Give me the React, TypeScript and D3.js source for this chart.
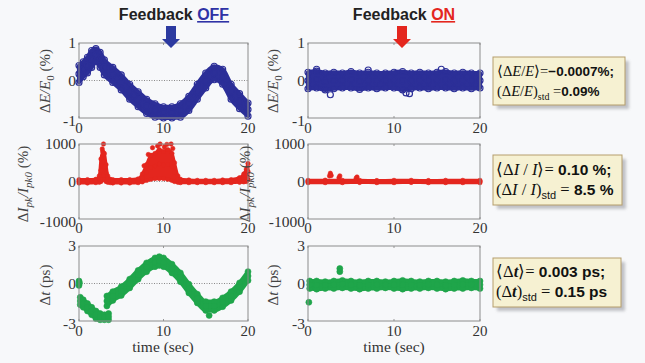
import React from "react";
import * as d3 from "d3";

// ---------- DATA ----------
const xTicks = [0, 10, 20];
const eTicks = [1, 0, -1];
const iTicks = [1000, 0, -1000];
const tTicks = [3, 0, -3];

// Energy deviation, feedback OFF (band envelope)
const eOffT = [0, 0.5, 1, 1.5, 2, 2.5, 3, 4, 5, 6, 7, 8, 9, 10, 11, 12, 13, 14, 15, 16, 17, 18, 19, 20];
const eOffHi = [0.4, 0.5, 0.62, 0.8, 0.85, 0.75, 0.55, 0.35, 0.15, -0.1, -0.3, -0.5, -0.62, -0.7, -0.7, -0.62, -0.42, -0.1, 0.2, 0.38, 0.3, -0.1, -0.35, -0.6];
const eOffLo = [-0.05, 0.1, 0.2, 0.35, 0.5, 0.35, 0.15, -0.05, -0.25, -0.5, -0.7, -0.88, -0.98, -1.0, -1.0, -0.98, -0.8, -0.5, -0.2, 0.02, -0.1, -0.5, -0.75, -0.95];

// Energy deviation, feedback ON
const eOnT = [0, 1, 2, 3, 4, 5, 6, 7, 8, 9, 10, 11, 12, 13, 14, 15, 16, 17, 18, 19, 20];
const eOnHi = [0.22, 0.25, 0.2, 0.22, 0.2, 0.24, 0.2, 0.22, 0.2, 0.2, 0.22, 0.24, 0.2, 0.22, 0.2, 0.22, 0.24, 0.2, 0.22, 0.2, 0.2];
const eOnLo = [-0.22, -0.2, -0.25, -0.22, -0.2, -0.2, -0.24, -0.2, -0.22, -0.2, -0.2, -0.25, -0.22, -0.2, -0.22, -0.2, -0.2, -0.22, -0.2, -0.22, -0.2];
const eOnOut: [number, number][] = [[2.6, -0.38], [11.4, -0.33], [11.8, -0.35], [1.0, 0.3], [7.0, 0.28], [15.5, 0.3]];

// Peak current deviation, feedback OFF
const iOffT = [0, 1, 2, 2.4, 2.6, 2.8, 3.0, 3.2, 3.4, 3.7, 4, 5, 6, 7, 7.5, 8, 8.5, 9, 9.5, 10, 10.5, 11, 11.3, 11.7, 12, 13, 14, 15, 16, 17, 18, 19, 19.5, 19.8, 20];
const iOffHi = [50, 50, 60, 150, 600, 800, 750, 450, 150, 60, 50, 50, 50, 70, 200, 450, 700, 750, 850, 800, 850, 750, 500, 150, 60, 40, 30, 30, 30, 40, 50, 100, 200, 330, 480];
const iOffLo = [-40, -40, -30, -20, 0, 50, 50, 0, -20, -30, -40, -40, -40, -30, -10, 30, 60, 80, 80, 80, 60, 30, 0, -20, -30, -30, -30, -30, -30, -30, -30, -20, -10, 0, 50];
const iOffOut: [number, number][] = [[2.9, 1000], [2.75, 870], [8.2, 720], [8.7, 900], [9.3, 950], [9.6, 1000], [10.1, 920], [10.4, 990], [10.9, 1000], [11.1, 880], [7.7, 420]];

// Peak current deviation, feedback ON
const iOnT = [0, 2, 4, 6, 8, 10, 12, 14, 16, 18, 20];
const iOnHi = [30, 35, 30, 30, 25, 30, 30, 25, 30, 30, 30];
const iOnLo = [-30, -30, -30, -25, -30, -30, -25, -30, -30, -30, -30];
const iOnOut: [number, number][] = [[2.5, 150], [2.6, 220], [2.7, 160], [3.6, 100], [3.7, 150], [5.6, 90], [5.7, 120]];

// Timing jitter, feedback OFF (two segments)
const tOff1T = [0.15, 0.5, 1, 1.5, 2, 2.5, 3, 3.5];
const tOff1Hi = [-1.1, -1.3, -1.6, -1.9, -2.2, -2.4, -2.5, -2.4];
const tOff1Lo = [-1.7, -1.9, -2.2, -2.5, -2.8, -2.9, -2.9, -2.9];
const tOff2T = [3.3, 4, 5, 6, 7, 8, 9, 9.5, 10, 11, 12, 13, 14, 15, 16, 17, 18, 19, 20];
const tOff2Hi = [-1.0, -0.65, -0.25, 0.35, 1.05, 1.65, 2.05, 2.15, 2.05, 1.55, 0.85, -0.05, -0.85, -1.45, -1.45, -1.15, -0.65, 0.05, 0.95];
const tOff2Lo = [-1.8, -1.35, -0.95, -0.35, 0.35, 0.95, 1.35, 1.45, 1.35, 0.85, 0.15, -0.75, -1.55, -2.15, -2.15, -1.85, -1.35, -0.65, 0.25];
const tOffOut: [number, number][] = [[0, 0.2], [0, -0.15], [0.05, 0.05], [15.4, -2.55]];

// Timing jitter, feedback ON
const tOnT = [0.2, 1, 2, 3, 4, 5, 6, 7, 8, 9, 10, 11, 12, 13, 14, 15, 16, 17, 18, 19, 20];
const tOnHi = [0.2, 0.2, 0.15, 0.2, 0.25, 0.2, 0.15, 0.2, 0.2, 0.15, 0.2, 0.25, 0.2, 0.15, 0.2, 0.2, 0.15, 0.2, 0.25, 0.2, 0.2];
const tOnLo = [-0.4, -0.45, -0.4, -0.4, -0.35, -0.4, -0.45, -0.4, -0.4, -0.35, -0.4, -0.45, -0.4, -0.4, -0.35, -0.4, -0.45, -0.4, -0.4, -0.35, -0.4];
const tOnOut: [number, number][] = [[0.1, -1.5], [3.7, 1.2], [3.7, 0.95]];

// ---------- LAYOUT ----------
const BLUE = "#2c2f98";
const RED = "#e4261e";
const GREEN = "#1fa54a";
const SERIF = "'Liberation Serif', 'Times New Roman', serif";
const SANS = "'Liberation Sans', Arial, sans-serif";

const cols = [
  { x0: 79, x1: 248 },
  { x0: 308, x1: 480 },
];
const rows = [
  { y0: 43, y1: 118, domain: [-1, 1], ticks: eTicks },
  { y0: 144, y1: 219, domain: [-1000, 1000], ticks: iTicks },
  { y0: 246, y1: 321, domain: [-3, 3], ticks: tTicks },
];

type BandProps = {
  x: d3.ScaleLinear<number, number>;
  y: d3.ScaleLinear<number, number>;
  t: number[];
  lo: number[];
  hi: number[];
  out?: [number, number][];
  color: string;
  r: number;
  open?: boolean;
};

function Band({ x, y, t, lo, hi, out = [], color, r, open }: BandProps) {
  const pts = t.map((v, i) => ({ t: v, lo: lo[i], hi: hi[i] }));
  const area = d3
    .area<{ t: number; lo: number; hi: number }>()
    .x((d) => x(d.t))
    .y0((d) => y(d.lo))
    .y1((d) => y(d.hi))
    .curve(d3.curveMonotoneX);
  const marks: [number, number][] = [];
  pts.forEach((p) => {
    marks.push([p.t, p.lo]);
    marks.push([p.t, p.hi]);
    marks.push([p.t, (p.lo + p.hi) / 2]);
  });
  out.forEach((o) => marks.push(o));
  return (
    <g>
      <path d={area(pts) || ""} fill={color} stroke={color} strokeWidth={r * 1.4} strokeLinejoin="round" />
      {marks.map((m, i) => (
        <circle
          key={i}
          cx={x(m[0])}
          cy={y(m[1])}
          r={r}
          fill={open ? "none" : color}
          stroke={color}
          strokeWidth={open ? 1.2 : 0.6}
        />
      ))}
    </g>
  );
}

function Frame({ col, row, xLabelY, showZero }: any) {
  const x = d3.scaleLinear().domain([0, 20]).range([col.x0, col.x1]);
  const y = d3.scaleLinear().domain(row.domain).range([row.y1, row.y0]);
  return (
    <g>
      {showZero && (
        <line x1={col.x0} x2={col.x1} y1={y(0)} y2={y(0)} stroke="#8a8a8a" strokeWidth={1} strokeDasharray="1,1.5" />
      )}
      {xTicks.map((v) => (
        <g key={v}>
          <line x1={x(v)} x2={x(v)} y1={row.y1} y2={row.y1 - 2} stroke="#999" />
          <line x1={x(v)} x2={x(v)} y1={row.y0} y2={row.y0 + 2} stroke="#999" />
          <text x={x(v)} y={xLabelY} textAnchor="middle" fontFamily={SERIF} fontSize={15} fill="#333">
            {v}
          </text>
        </g>
      ))}
      {row.ticks.map((v: number) => (
        <text
          key={v}
          x={col.x0 - 3}
          y={y(v) + (v < 0 ? 8 : 5)}
          textAnchor="end"
          fontFamily={SERIF}
          fontSize={15.5}
          fill="#333"
        >
          {v < 0 ? "-" + Math.abs(v) : v}
        </text>
      ))}
    </g>
  );
}

function Outline({ col, row }: any) {
  return <rect x={col.x0} y={row.y0} width={col.x1 - col.x0} height={row.y1 - row.y0} fill="none" stroke="#8c8c8c" strokeWidth={1} />;
}

function YLabel({ cx, cy, kind }: { cx: number; cy: number; kind: number }) {
  const common = { fontFamily: SERIF, fontSize: 15, fill: "#444" };
  let content: React.ReactNode;
  if (kind === 0) {
    content = (
      <>
        <tspan>Δ</tspan>
        <tspan fontStyle="italic">E/E</tspan>
        <tspan dy={4} fontSize={11}>0</tspan>
        <tspan dy={-4}> (%)</tspan>
      </>
    );
  } else if (kind === 1) {
    content = (
      <>
        <tspan>Δ</tspan>
        <tspan fontStyle="italic">I</tspan>
        <tspan dy={4} fontSize={11} fontStyle="italic">pk</tspan>
        <tspan dy={-4} fontStyle="italic">/I</tspan>
        <tspan dy={4} fontSize={11} fontStyle="italic">pk0</tspan>
        <tspan dy={-4}> (%)</tspan>
      </>
    );
  } else {
    content = (
      <>
        <tspan>Δ</tspan>
        <tspan fontStyle="italic">t</tspan>
        <tspan> (ps)</tspan>
      </>
    );
  }
  return (
    <text transform={`translate(${cx},${cy}) rotate(-90)`} textAnchor="middle" {...common}>
      {content}
    </text>
  );
}

function Arrow({ cx, color }: { cx: number; color: string }) {
  const d = `M${cx - 5},26 L${cx + 5},26 L${cx + 5},39 L${cx + 9},39 L${cx},48 L${cx - 9},39 L${cx - 5},39 Z`;
  return <path d={d} fill={color} />;
}

function StatBox({ x, y, w, h, children }: any) {
  return (
    <g>
      <rect x={x + 4} y={y + 4} width={w} height={h} fill="#a9aab0" opacity={0.7} filter="url(#blur)" />
      <rect x={x} y={y} width={w} height={h} fill="#f6f1d2" stroke="#b59d6c" strokeWidth={1} />
      {children}
    </g>
  );
}

export default function App() {
  const xs = cols.map((c) => d3.scaleLinear().domain([0, 20]).range([c.x0, c.x1]));
  const ys = rows.map((r) => d3.scaleLinear().domain(r.domain).range([r.y1, r.y0]));
  const xLabelYs = [133, 233, 336];
  const boxFont1 = { fontFamily: SERIF, fontSize: 14.5, fill: "#111" };
  const numFont1 = { fontFamily: SANS, fontWeight: 700 as const, fontSize: 13.5 };
  const boxFont = { fontFamily: SERIF, fontSize: 16.5, fill: "#111" };
  const numFont = { fontFamily: SANS, fontWeight: 700 as const, fontSize: 15.5 };

  return (
    <svg width={645} height={363} style={{ position: "absolute", left: 0, top: 0, display: "block" }}>
      <defs>
        <filter id="blur" x="-10%" y="-10%" width="130%" height="130%">
          <feGaussianBlur stdDeviation="1.5" />
        </filter>
      </defs>
      <rect x={0} y={0} width={645} height={363} fill="#f7f8fa" />

      {/* Titles */}
      <text x={174} y={20} textAnchor="middle" fontFamily={SANS} fontWeight={700} fontSize={16} fill="#222">
        Feedback <tspan fill="#2f33a6" textDecoration="underline">OFF</tspan>
      </text>
      <text x={404} y={20} textAnchor="middle" fontFamily={SANS} fontWeight={700} fontSize={16} fill="#222">
        Feedback <tspan fill="#e4261e" textDecoration="underline">ON</tspan>
      </text>

      {rows.map((row, ri) =>
        cols.map((col, ci) => (
          <Frame key={`${ri}-${ci}`} col={col} row={row} xLabelY={xLabelYs[ri]} showZero={true} />
        ))
      )}

      {/* Energy */}
      <Band x={xs[0]} y={ys[0]} t={eOffT} lo={eOffLo} hi={eOffHi} color={BLUE} r={3} open />
      <Band x={xs[1]} y={ys[0]} t={eOnT} lo={eOnLo} hi={eOnHi} out={eOnOut} color={BLUE} r={3} open />
      {/* Current */}
      <Band x={xs[0]} y={ys[1]} t={iOffT} lo={iOffLo} hi={iOffHi} out={iOffOut} color={RED} r={2.2} />
      <Band x={xs[1]} y={ys[1]} t={iOnT} lo={iOnLo} hi={iOnHi} out={iOnOut} color={RED} r={2.2} />
      {/* Timing */}
      <Band x={xs[0]} y={ys[2]} t={tOff1T} lo={tOff1Lo} hi={tOff1Hi} out={tOffOut} color={GREEN} r={3} />
      <Band x={xs[0]} y={ys[2]} t={tOff2T} lo={tOff2Lo} hi={tOff2Hi} color={GREEN} r={3} />
      <Band x={xs[1]} y={ys[2]} t={tOnT} lo={tOnLo} hi={tOnHi} out={tOnOut} color={GREEN} r={3} />

      {rows.map((row, ri) => cols.map((col, ci) => <Outline key={`o${ri}-${ci}`} col={col} row={row} />))}

      {/* Y labels */}
      <YLabel cx={50} cy={81} kind={0} />
      <YLabel cx={278} cy={81} kind={0} />
      <YLabel cx={28} cy={184} kind={1} />
      <YLabel cx={250} cy={184} kind={1} />
      <YLabel cx={50} cy={285} kind={2} />
      <YLabel cx={278} cy={285} kind={2} />

      {/* x label */}
      <text x={163} y={352} textAnchor="middle" fontFamily={SERIF} fontSize={15.5} fill="#333">time (sec)</text>
      <text x={394} y={352} textAnchor="middle" fontFamily={SERIF} fontSize={15.5} fill="#333">time (sec)</text>

      <Arrow cx={171} color="#2c3aa0" />
      <Arrow cx={402} color="#e4261e" />

      {/* Stat boxes */}
      <StatBox x={493} y={57} w={132} h={48}>
        <text x={497} y={76} {...boxFont1}>
          ⟨Δ<tspan fontStyle="italic">E</tspan>/<tspan fontStyle="italic">E</tspan>⟩=<tspan {...numFont1}>−0.0007%;</tspan>
        </text>
        <text x={497} y={96} {...boxFont1}>
          (Δ<tspan fontStyle="italic">E</tspan>/<tspan fontStyle="italic">E</tspan>)<tspan dy={4} fontSize={10}>std</tspan>
          <tspan dy={-4}> =</tspan><tspan {...numFont1}>0.09%</tspan>
        </text>
      </StatBox>
      <StatBox x={493} y={155} w={129} h={50}>
        <text x={496} y={175} {...boxFont}>
          ⟨Δ<tspan fontStyle="italic">I</tspan> / <tspan fontStyle="italic">I</tspan>⟩=<tspan {...numFont}> 0.10 %;</tspan>
        </text>
        <text x={496} y={195} {...boxFont}>
          (Δ<tspan fontStyle="italic">I</tspan> / <tspan fontStyle="italic">I</tspan>)<tspan dy={4} fontSize={11} fontFamily={SANS}>std</tspan>
          <tspan dy={-4}>  =</tspan><tspan {...numFont}> 8.5 %</tspan>
        </text>
      </StatBox>
      <StatBox x={493} y={258} w={128} h={49}>
        <text x={496} y={277} {...boxFont}>
          ⟨Δ<tspan fontStyle="italic" fontWeight={700}>t</tspan>⟩=<tspan {...numFont}> 0.003  ps;</tspan>
        </text>
        <text x={496} y={297} {...boxFont}>
          (Δ<tspan fontStyle="italic" fontWeight={700}>t</tspan>)<tspan dy={4} fontSize={11} fontFamily={SANS}>std</tspan>
          <tspan dy={-4}>  =</tspan><tspan {...numFont}> 0.15 ps</tspan>
        </text>
      </StatBox>
    </svg>
  );
}
